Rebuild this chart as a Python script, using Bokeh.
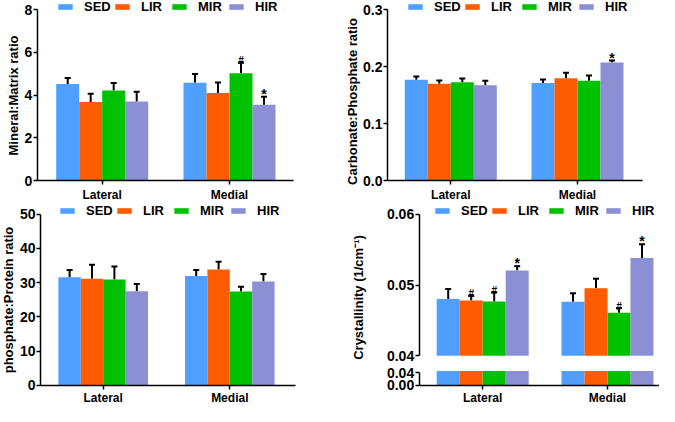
from math import pi
from bokeh.plotting import figure
from bokeh.models import (ColumnDataSource, Whisker, TeeHead, Legend, LegendItem, Label,
                          FixedTicker, NumeralTickFormatter, Range1d)
from bokeh.layouts import row, column
from bokeh.embed import file_html
from bokeh.resources import INLINE
from bokeh.core.properties import value

FONT = "Liberation Sans"

categories = ["Lateral", "Medial"]
groups = ["SED", "LIR", "MIR", "HIR"]
colors = ["#4e9fff", "#ff5b00", "#00c100", "#8b8fd3"]

# Panel A: Mineral:Matrix ratio  (values per group: [Lateral, Medial])
mm_mean = {"SED": [4.51, 4.57], "LIR": [3.67, 4.09], "MIR": [4.21, 5.02], "HIR": [3.70, 3.54]}
mm_err = {"SED": [0.28, 0.41], "LIR": [0.39, 0.50], "MIR": [0.35, 0.49], "HIR": [0.45, 0.38]}
mm_sig = {"SED": ["", ""], "LIR": ["", ""], "MIR": ["", "#"], "HIR": ["", "*"]}
mm_ticks = [0, 2, 4, 6, 8]

# Panel B: Carbonate:Phosphate ratio
cp_mean = {"SED": [0.1766, 0.1710], "LIR": [0.1696, 0.1795], "MIR": [0.1725, 0.1750], "HIR": [0.1673, 0.2070]}
cp_err = {"SED": [0.0060, 0.0060], "LIR": [0.0060, 0.0095], "MIR": [0.0065, 0.0090], "HIR": [0.0077, 0.0035]}
cp_sig = {"SED": ["", ""], "LIR": ["", ""], "MIR": ["", ""], "HIR": ["", "*"]}
cp_ticks = [0.0, 0.1, 0.2, 0.3]

# Panel C: phosphate:Protein ratio
pp_mean = {"SED": [31.6, 31.9], "LIR": [31.1, 33.8], "MIR": [30.9, 27.4], "HIR": [27.5, 30.3]}
pp_err = {"SED": [2.1, 1.8], "LIR": [4.1, 2.3], "MIR": [3.8, 1.4], "HIR": [2.1, 2.2]}
pp_sig = {"SED": ["", ""], "LIR": ["", ""], "MIR": ["", ""], "HIR": ["", ""]}
pp_ticks = [0, 10, 20, 30, 40, 50]

# Panel D: Crystallinity (broken axis)
cr_mean = {"SED": [0.04804, 0.04762], "LIR": [0.04780, 0.04953], "MIR": [0.04766, 0.04607], "HIR": [0.05206, 0.05383]}
cr_err = {"SED": [0.00140, 0.00121], "LIR": [0.00066, 0.00136], "MIR": [0.00127, 0.00066], "HIR": [0.00060, 0.00192]}
cr_sig = {"SED": ["", ""], "LIR": ["#", ""], "MIR": ["#", "#"], "HIR": ["*", "*"]}
cr_ticks_top = [0.04, 0.05, 0.06]
cr_ticks_bottom = [0.0, 0.04]
cr_lower_segment_top = 0.045   # where bars are cut in the lower (broken) segment


def style_axes(p):
    p.grid.visible = False
    p.outline_line_color = None
    p.background_fill_color = "white"
    p.border_fill_color = "white"
    for ax in p.axis:
        ax.axis_line_width = 1.5
        ax.axis_line_color = "black"
        ax.major_tick_line_width = 1.5
        ax.major_tick_line_color = "black"
        ax.major_tick_out = 4
        ax.major_tick_in = 0
        ax.minor_tick_out = 0
        ax.minor_tick_in = 0
        ax.major_label_text_font = FONT
        ax.major_label_text_font_style = "bold"
        ax.major_label_text_color = "black"
    p.yaxis.major_label_text_font_size = "14px"
    p.yaxis.major_label_standoff = 1
    p.xaxis.major_label_text_font_size = "12px"
    p.xaxis.ticker = FixedTicker(ticks=[i + 1 for i in range(len(categories))])
    p.xaxis.major_label_overrides = {i + 1: c for i, c in enumerate(categories)}


def full_fig(w, h, cat1_px, ux, ylo, yhi, ylo_px, yhi_px, ax_left_px, ax_right_px,
             xaxis=True, standoff=3):
    """Figure whose frame fills the whole canvas; axes are placed inside it."""
    x0 = 1 - cat1_px / ux
    x1 = x0 + w / ux
    uy = (ylo_px - yhi_px) / (yhi - ylo)
    y0 = ylo - (h - ylo_px) / uy
    y1 = yhi + yhi_px / uy
    p = figure(width=w, height=h, x_range=Range1d(x0, x1), y_range=Range1d(y0, y1),
               output_backend="svg", toolbar_location=None,
               min_border_left=0, min_border_right=0, min_border_top=0, min_border_bottom=0)
    style_axes(p)
    xa = x0 + ax_left_px / ux
    xb = x0 + ax_right_px / ux
    p.yaxis.fixed_location = xa
    p.yaxis.bounds = (ylo, yhi)
    if xaxis:
        p.xaxis.fixed_location = ylo
        p.xaxis.bounds = (xa, xb)
        p.xaxis.major_label_standoff = standoff
    else:
        p.xaxis.visible = False
    return p


def draw_bars(p, means, errs, sigs, bw, base=0.0, extras=True, cap=None):
    rends = []
    for i, (g, col) in enumerate(zip(groups, colors)):
        xs = [k + 1 + (i - 1.5) * bw for k in range(len(categories))]
        tops = means[g] if cap is None else [min(m, cap) for m in means[g]]
        uppers = [m + e for m, e in zip(means[g], errs[g])]
        sig = sigs[g]
        src = ColumnDataSource(dict(
            x=xs, top=tops, upper=uppers, sig=sig,
            fs=["10px" if s == "#" else "14px" for s in sig],
            yo=[-2 if s == "#" else -3 for s in sig]))
        r = p.vbar(x="x", top="top", bottom=base, width=bw, source=src,
                   fill_color=col, line_color=None)
        rends.append(r)
        if extras:
            wh = Whisker(source=src, base="x", lower="top", upper="upper",
                         upper_head=TeeHead(size=6, line_width=2, line_color="black"),
                         lower_head=None, line_width=2, line_color="black")
            p.add_layout(wh)
            p.text(x="x", y="upper", text="sig", source=src, text_align="center",
                   text_baseline="alphabetic", text_font=value(FONT), text_font_style="bold",
                   text_font_size="fs", y_offset="yo", text_color="black")
    return rends


def add_legend(p, rends, loc):
    items = [LegendItem(label=g, renderers=[r]) for g, r in zip(groups, rends)]
    lg = Legend(items=items, orientation="horizontal", location=loc,
                background_fill_alpha=0, border_line_color=None, padding=0, margin=0,
                spacing=0, glyph_width=18, glyph_height=7, label_standoff=10,
                label_width=29, label_height=14, label_text_font=FONT,
                label_text_font_size="13px", label_text_font_style="bold",
                label_text_color="black")
    p.add_layout(lg, "center")


def add_ylabel(p, text, x, y):
    p.add_layout(Label(x=x, y=y, x_units="screen", y_units="screen", text=text,
                       angle=pi / 2, text_align="center", text_baseline="middle",
                       text_font=FONT, text_font_size="13px", text_font_style="bold",
                       text_color="black"))


# ---- Panel A (top left)
f1 = full_fig(337, 203, 101.7, 127.3, 0, 8, 180, 9, 36.7, 293)
f1.yaxis.ticker = FixedTicker(ticks=mm_ticks)
r1 = draw_bars(f1, mm_mean, mm_err, mm_sig, 23 / 127.3)
add_legend(f1, r1, (56, 189))
add_ylabel(f1, "Mineral:Matrix ratio", 12.8, 108)

# ---- Panel B (top right)
f2 = full_fig(322, 203, 113.3, 126.7, 0, 0.3, 180, 9, 50, 305)
f2.yaxis.ticker = FixedTicker(ticks=cp_ticks)
f2.yaxis.formatter = NumeralTickFormatter(format="0.0")
r2 = draw_bars(f2, cp_mean, cp_err, cp_sig, 23 / 126.7)
add_legend(f2, r2, (69, 189))
add_ylabel(f2, "Carbonate:Phosphate ratio", 14.7, 102)

# ---- Panel C (bottom left)
f3 = full_fig(337, 203, 102.7, 126.6, 0, 50, 181.7, 10.7, 40, 295, standoff=2)
f3.yaxis.ticker = FixedTicker(ticks=pp_ticks)
r3 = draw_bars(f3, pp_mean, pp_err, pp_sig, 22.4 / 126.6)
add_legend(f3, r3, (58, 188))
add_ylabel(f3, "phosphate:Protein ratio", 8.3, 106.5)

# ---- Panel D (bottom right, broken y axis): upper segment
ux4 = 124.8
f4a = full_fig(322, 161, 145.2, ux4, 0.04, 0.06, 152.3, 10.7, 81.7, 322, xaxis=False)
f4a.yaxis.ticker = FixedTicker(ticks=cr_ticks_top)
f4a.yaxis.formatter = NumeralTickFormatter(format="0.00")
r4 = draw_bars(f4a, cr_mean, cr_err, cr_sig, 23 / ux4, base=cr_ticks_top[0])
add_legend(f4a, r4, (96, 146))
add_ylabel(f4a, "Crystallinity (1/cm\u207b\u00b9)", 20.8, 67)

# lower segment
f4b = full_fig(322, 42, 145.2, ux4, 0.0, 0.04, 20.7, 8, 81.7, 322, standoff=2)
f4b.yaxis.ticker = FixedTicker(ticks=cr_ticks_bottom)
f4b.yaxis.formatter = NumeralTickFormatter(format="0.00")
draw_bars(f4b, cr_mean, cr_err, cr_sig, 23 / ux4, extras=False, cap=cr_lower_segment_top)

layout = column(row(f1, f2), row(f3, column(f4a, f4b)))

with open("out.html", "w") as fh:
    fh.write(file_html(layout, INLINE))
